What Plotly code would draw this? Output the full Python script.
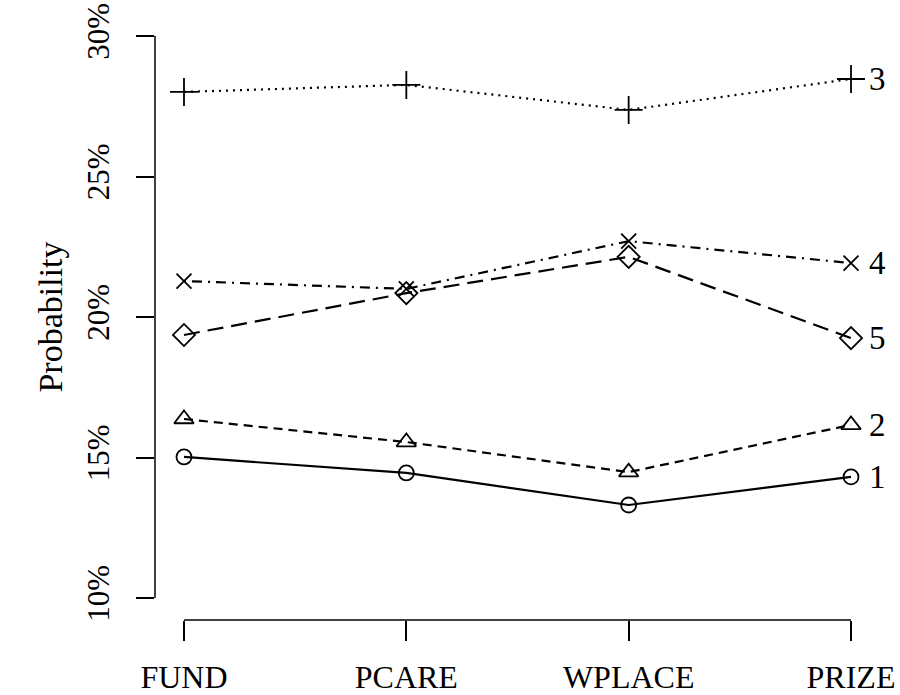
import plotly.graph_objects as go

# Categories on the x axis
categories = ["FUND", "PCARE", "WPLACE", "PRIZE"]

# Probability (%) for each latent class
class_1 = [15.02, 14.45, 13.31, 14.31]
class_2 = [16.37, 15.55, 14.48, 16.16]
class_3 = [28.01, 28.26, 27.37, 28.47]
class_4 = [21.28, 21.00, 22.70, 21.92]
class_5 = [19.36, 20.85, 22.14, 19.25]

class_labels = ["1", "2", "3", "4", "5"]
y_ticks = [10, 15, 20, 25, 30]
y_tick_text = [f"{v}%" for v in y_ticks]

series = [class_1, class_2, class_3, class_4, class_5]
symbols = ["circle-open", "triangle-up-open", "cross-thin-open", "x-thin-open", "diamond-open"]
sizes = [15, 17, 20, 15, 17]
dashes = ["solid", "9px,6px", "2px,5px", "2px,6px,10px,6px", "16px,8px"]

FONT = "Liberation Serif, Times New Roman, serif"
fig = go.Figure()

for vals, sym, sz, dash, lab in zip(series, symbols, sizes, dashes, class_labels):
    fig.add_trace(go.Scatter(
        x=categories, y=vals, mode="lines+markers",
        line=dict(color="black", width=2.2, dash=dash),
        marker=dict(symbol=sym, size=sz, color="black",
                    line=dict(color="black", width=1.8)),
        showlegend=False, cliponaxis=False, name=lab,
    ))
    fig.add_annotation(x=categories[-1], y=vals[-1], text=lab, showarrow=False,
                       xanchor="left", yanchor="middle", xshift=16,
                       font=dict(family=FONT, size=33, color="black"))

# R-style detached axis lines spanning only the tick range
fig.add_shape(type="line", xref="x", yref="paper", x0=0, x1=len(categories) - 1,
              y0=0, y1=0, line=dict(color="black", width=1.5))
fig.add_shape(type="line", xref="paper", yref="y", x0=0, x1=0,
              y0=min(y_ticks), y1=max(y_ticks), line=dict(color="black", width=1.5))

fig.update_layout(
    width=900, height=695,
    margin=dict(l=155, r=0, t=14, b=75),
    paper_bgcolor="white", plot_bgcolor="white",
    font=dict(family=FONT, size=32, color="black"),
    xaxis=dict(
        type="category", range=[-0.1304, 3.2204],
        showgrid=False, zeroline=False, showline=False,
        ticks="outside", ticklen=20, tickwidth=1.5, tickcolor="black",
        ticklabelstandoff=9,
        tickfont=dict(family=FONT, size=32),
    ),
    yaxis=dict(
        range=[9.217, 30.783],
        tickmode="array", tickvals=y_ticks, ticktext=y_tick_text, tickangle=-90,
        showgrid=False, zeroline=False, showline=False,
        ticks="outside", ticklen=18, tickwidth=1.5, tickcolor="black",
        ticklabelstandoff=15,
        tickfont=dict(family=FONT, size=31),
        title=dict(text="Probability", standoff=7,
                   font=dict(family=FONT, size=34)),
    ),
)

fig.write_html("out.html")
